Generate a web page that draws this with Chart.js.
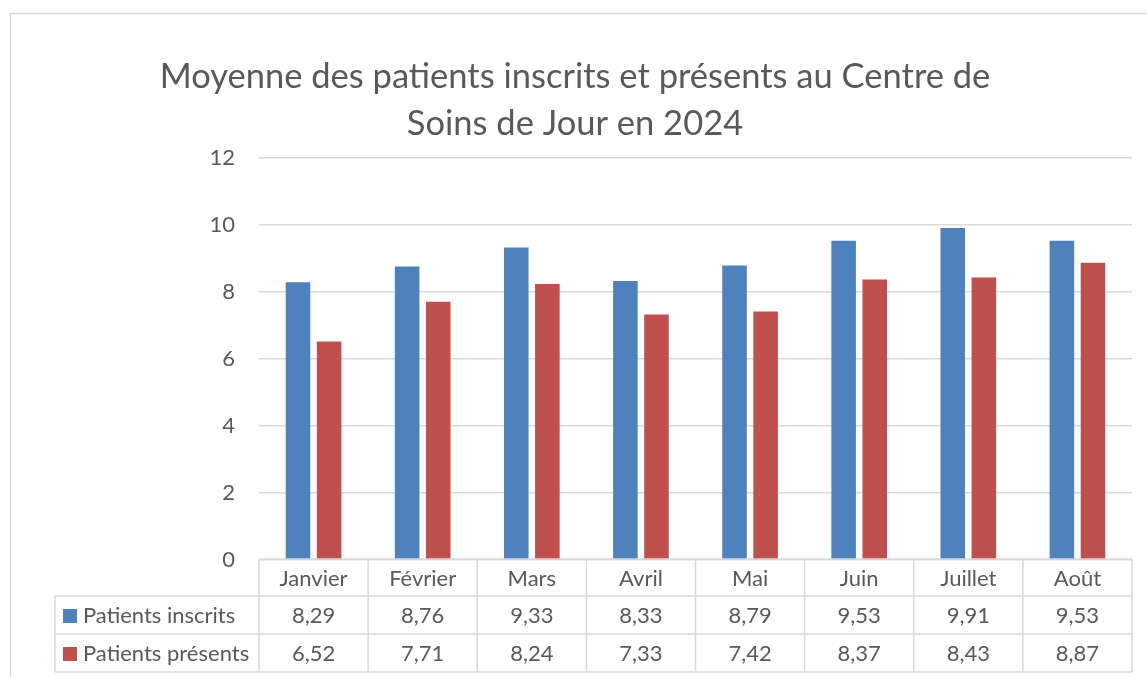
<!DOCTYPE html>
<html>
<head>
<meta charset="utf-8">
<script src="https://cdn.jsdelivr.net/npm/chart.js@4"></script>
<style>
  html, body { margin: 0; padding: 0; background: #fff; }
  #wrap { width: 1147px; height: 677px; }
</style>
</head>
<body>
<div id="wrap"><canvas id="barChart"></canvas></div>
<script>
const MOIS = ["Janvier", "Février", "Mars", "Avril", "Mai", "Juin", "Juillet", "Août"];
const INSCRITS = [8.29, 8.76, 9.33, 8.33, 8.79, 9.53, 9.91, 9.53];
const PRESENTS = [6.52, 7.71, 8.24, 7.33, 7.42, 8.37, 8.43, 8.87];
const Y_TICKS = [0, 2, 4, 6, 8, 10, 12];
const TITRE = ["Moyenne des patients inscrits et présents au Centre de", "Soins de Jour en 2024"];

const TEXT = "#595959";
const LINE = "#d9d9d9";
const FONT = "Lato, 'Open Sans', sans-serif";

function fmt(v) {
    return v.toFixed(2).replace(".", ",");
}

// frame, title, and the table under the plot (months, legend, values)
const tablePlugin = {
    id: "tableau",
    beforeDraw(chart) {
        const c = chart.ctx;
        c.save();
        c.strokeStyle = LINE;
        c.lineWidth = 1.5;
        c.strokeRect(10.5, 13.5, 1160, 690);
        c.fillStyle = TEXT;
        c.font = "34.5px " + FONT;
        c.textAlign = "center";
        c.textBaseline = "middle";
        c.fillText(TITRE[0], 575, 77);
        c.fillText(TITRE[1], 575, 124);
        c.restore();
    },
    afterDraw(chart) {
        const c = chart.ctx;
        const area = chart.chartArea;
        const n = MOIS.length;
        const w = (area.right - area.left) / n;
        const top = area.bottom - 1;
        const rows = [top, top + 37, top + 75, top + 113];
        const legendLeft = 55;

        c.save();
        c.strokeStyle = LINE;
        c.lineWidth = 1.5;
        c.beginPath();
        c.moveTo(area.left, rows[0]); c.lineTo(area.right, rows[0]);
        for (let r = 1; r < rows.length; r++) {
            c.moveTo(legendLeft, rows[r]); c.lineTo(area.right, rows[r]);
        }
        c.moveTo(legendLeft, rows[1]); c.lineTo(legendLeft, rows[3]);
        for (let i = 0; i <= n; i++) {
            const x = area.left + i * w;
            c.moveTo(x, rows[0]); c.lineTo(x, rows[3]);
        }
        c.stroke();

        c.fillStyle = TEXT;
        c.font = "22px " + FONT;
        c.textAlign = "center";
        c.textBaseline = "middle";
        for (let i = 0; i < n; i++) {
            const cx = area.left + (i + 0.5) * w;
            c.fillText(MOIS[i], cx, (rows[0] + rows[1]) / 2 + 1);
        }

        chart.data.datasets.forEach((ds, k) => {
            const y = (rows[k + 1] + rows[k + 2]) / 2 + 1;
            c.fillStyle = ds.backgroundColor;
            c.fillRect(63, y - 7, 14, 14);
            c.fillStyle = TEXT;
            c.textAlign = "left";
            c.fillText(ds.label, 83, y);
            c.textAlign = "center";
            ds.data.forEach((v, i) => {
                c.fillText(fmt(v), area.left + (i + 0.5) * w, y);
            });
        });
        c.restore();
    }
};

const CHART = document.getElementById("barChart");

let barChart = new Chart(CHART, {
    type: "bar",
    data: {
        labels: MOIS,
        datasets: [
            {
                label: "Patients inscrits",
                data: INSCRITS,
                backgroundColor: "#4f81bd",
                borderWidth: 0
            },
            {
                label: "Patients présents",
                data: PRESENTS,
                backgroundColor: "#c0504d",
                borderWidth: 0
            }
        ]
    },
    options: {
        responsive: true,
        maintainAspectRatio: false,
        animation: false,
        layout: { padding: { top: 158, left: 0, right: 15, bottom: 117 } },
        datasets: {
            bar: { categoryPercentage: 0.57, barPercentage: 0.79 }
        },
        plugins: {
            legend: { display: false },
            tooltip: { enabled: false },
            title: { display: false }
        },
        scales: {
            x: {
                display: false
            },
            y: {
                min: 0,
                max: 12,
                afterFit(scale) { scale.width = 259; },
                afterBuildTicks(scale) { scale.ticks = Y_TICKS.map(v => ({ value: v })); },
                border: { display: false },
                grid: { color: LINE, lineWidth: 1.5, drawTicks: false },
                ticks: {
                    color: TEXT,
                    padding: 24,
                    font: { family: FONT, size: 22 }
                }
            }
        }
    },
    plugins: [tablePlugin]
});
</script>
</body>
</html>
